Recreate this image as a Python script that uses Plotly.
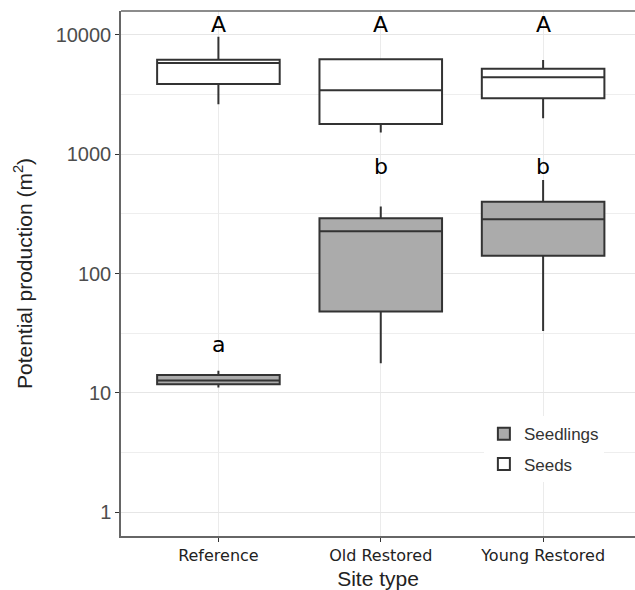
import plotly.graph_objects as go

sites = ["Reference", "Old Restored", "Young Restored"]

seeds_lower = [2620, 1520, 2000]
seeds_q1 = [3880, 1790, 2940]
seeds_median = [5800, 3440, 4410]
seeds_q3 = [6200, 6250, 5210]
seeds_upper = [9660, 6370, 6160]

seedlings_lower = [11.1, 17.7, 33]
seedlings_q1 = [11.8, 48, 141]
seedlings_median = [12.7, 226, 285]
seedlings_q3 = [14.1, 290, 400]
seedlings_upper = [15.3, 364, 608]

seeds_letters = ["A", "A", "A"]
seedlings_letters = ["a", "b", "b"]

y_tick_vals = [1, 10, 100, 1000, 10000]
y_tick_text = ["1", "10", "100", "1000", "10000"]

# letter heights (log10 units) - layout positions
seeds_letter_y = [4.085, 4.085, 4.085]
seedlings_letter_y = [1.406, 2.90, 2.90]

LINE = "#333333"
fig = go.Figure()
fig.add_trace(go.Box(
    name="Seedlings", x=sites, q1=seedlings_q1, median=seedlings_median, q3=seedlings_q3,
    lowerfence=seedlings_lower, upperfence=seedlings_upper,
    fillcolor="#ababab", line=dict(color=LINE, width=2), width=0.755, whiskerwidth=0,
    boxpoints=False, legendgroup="g1", hoverinfo="skip",
))
fig.add_trace(go.Box(
    name="Seeds", x=sites, q1=seeds_q1, median=seeds_median, q3=seeds_q3,
    lowerfence=seeds_lower, upperfence=seeds_upper,
    fillcolor="#ffffff", line=dict(color=LINE, width=2), width=0.755, whiskerwidth=0,
    boxpoints=False, legendgroup="g2", hoverinfo="skip",
))

annotations = []
for s, t, yy in zip(sites, seeds_letters, seeds_letter_y):
    annotations.append(dict(x=s, y=yy, xref="x", yref="y", text=t, showarrow=False,
                            font=dict(family="DejaVu Sans", size=22, color="#000"),
                            yanchor="middle"))
for s, t, yy in zip(sites, seedlings_letters, seedlings_letter_y):
    annotations.append(dict(x=s, y=yy, xref="x", yref="y", text=t, showarrow=False,
                            font=dict(family="DejaVu Sans", size=22, color="#000"),
                            yanchor="middle"))

minor_vals = [10 ** (k + 0.5) for k in range(-1, 5)]

fig.update_layout(
    width=635, height=590,
    margin=dict(l=121, r=0, t=11, b=54),
    paper_bgcolor="white", plot_bgcolor="white",
    boxmode="overlay",
    showlegend=True,
    legend=dict(x=0.706, y=0.228, xanchor="left", yanchor="top",
                bgcolor="white", font=dict(family="Liberation Sans", size=17, color="#333"),
                tracegroupgap=5, itemwidth=30),
    annotations=annotations,
    shapes=[dict(type="line", xref="paper", yref="paper", x0=0, x1=1, y0=1, y1=1,
                 line=dict(color="#666", width=1.5), layer="above")],
    xaxis=dict(
        type="category", range=[-0.6, 2.566],
        showgrid=True, gridcolor="#ebebeb", gridwidth=1,
        showline=True, linecolor="#666", linewidth=1.5, mirror=False,
        ticks="outside", ticklen=4, tickcolor="#333", tickwidth=1,
        tickfont=dict(family="DejaVu Sans", size=16, color="#222"),
        title=dict(text="Site type", font=dict(family="Liberation Sans", size=21, color="#222"),
                   standoff=8),
        zeroline=False,
    ),
    yaxis=dict(
        type="log", range=[-0.2, 4.2],
        tickmode="array", tickvals=y_tick_vals, ticktext=y_tick_text,
        showgrid=True, gridcolor="#e6e6e6", gridwidth=1.3,
        minor=dict(tickmode="array", tickvals=minor_vals, showgrid=True,
                   gridcolor="#eeeeee", gridwidth=1, ticks=""),
        showline=True, linecolor="#666", linewidth=1.5, mirror=False,
        ticks="outside", ticklen=4, tickcolor="#333", tickwidth=1,
        tickfont=dict(family="Liberation Sans", size=20, color="#4d4d4d"),
        title=dict(text="Potential production (m<sup>2</sup>)",
                   font=dict(family="Liberation Sans", size=21, color="#222"), standoff=17),
        zeroline=False,
    ),
)

fig.write_html("out.html")
